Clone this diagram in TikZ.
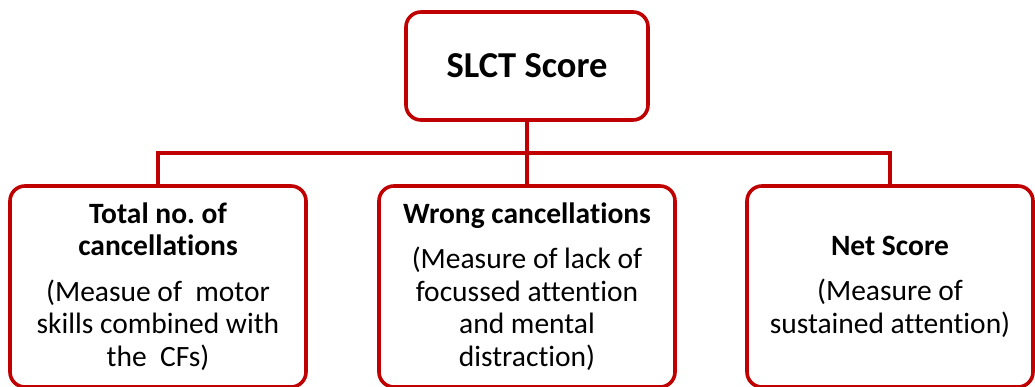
\documentclass[tikz,border=0pt]{standalone}
\usepackage{fontspec}
\setmainfont{Carlito}[Ligatures={NoCommon}]
\definecolor{boxred}{RGB}{192,0,0}
\frenchspacing
\begin{document}
\begin{tikzpicture}[x=1pt,y=1pt,
  box/.style={draw=boxred, line width=3.6pt, rounded corners=15pt,
              align=center, inner sep=0pt, fill=white},
  link/.style={draw=boxred, line width=3.6pt},
  body/.style={font=\fontsize{29.5}{32.5}\selectfont}]
\useasboundingbox (0,0) rectangle (1035,387);

% top node
\node[box, minimum width=242pt, minimum height=108pt,
      font=\fontsize{36.5}{40}\selectfont\bfseries] (top) at (527,321) {SLCT Score};

% three measures
\node[box, body, minimum width=296pt, minimum height=201pt] (total) at (158,100.5)
  {\textbf{Total no. of}\\\textbf{cancellations}\\[13pt]
   (Measue of\ \ motor\\skills combined with\\the\ \ CFs)};
\node[box, body, minimum width=296pt, minimum height=201pt] (wrong) at (527,100.5)
  {\textbf{Wrong cancellations}\\[13pt]
   (Measure of lack of\\focussed attention\\and mental\\distraction)};
\node[box, body, minimum width=286pt, minimum height=201pt] (net) at (890,100.5)
  {\textbf{Net Score}\\[13pt]
   (Measure of\\sustained attention)};

% connectors
\coordinate (bar) at (0,234);
\draw[link] (top.south) -- (wrong.north);
\draw[link] (total.north) -- (total.north |- bar) -- (net.north |- bar) -- (net.north);
\end{tikzpicture}
\end{document}
